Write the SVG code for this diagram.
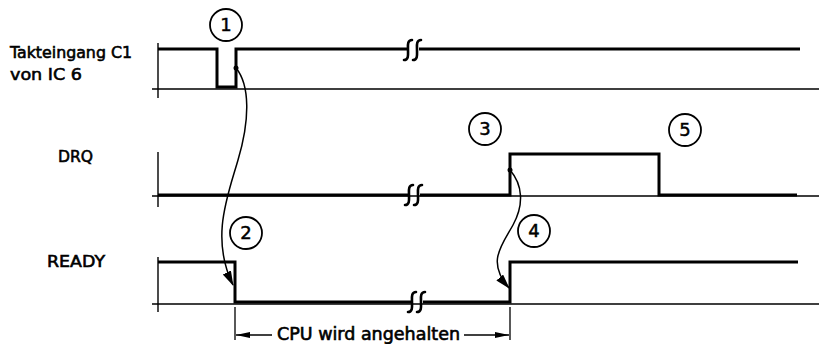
<svg xmlns="http://www.w3.org/2000/svg" width="819" height="344" viewBox="0 0 819 344">
<style>
.lbl{font-family:"DejaVu Sans","Liberation Sans",sans-serif;font-size:16px;fill:#000;stroke:#000;stroke-width:0.6}
.num{font-family:"DejaVu Sans","Liberation Sans",sans-serif;font-size:18px;fill:#000;text-anchor:middle;stroke:#000;stroke-width:0.5}
.axis{stroke:#000;stroke-width:1.4;fill:none}
.sig{stroke:#000;stroke-width:3;fill:none;stroke-linejoin:miter;stroke-linecap:butt}
.brk{stroke:#000;stroke-width:2.6;fill:none;stroke-linecap:round}
.circ{stroke:#000;stroke-width:1.8;fill:none}
.conn{stroke:#000;stroke-width:1.5;fill:none}
.dim{stroke:#000;stroke-width:1.3;fill:none}
</style>
<defs>
<marker id="ah" markerUnits="userSpaceOnUse" markerWidth="16" markerHeight="10" refX="14" refY="4.5" orient="auto">
<path d="M0,0 L15,4.5 L0,9 Z" fill="#000"/>
</marker>
<marker id="dh" markerUnits="userSpaceOnUse" markerWidth="16" markerHeight="8" refX="14" refY="3" orient="auto">
<path d="M0,0 L14,3 L0,6 Z" fill="#000"/>
</marker>
</defs>
<g id="labels">
<text class="lbl" x="10" y="58" textLength="122" lengthAdjust="spacingAndGlyphs">Takteingang C1</text>
<text class="lbl" x="10" y="80" textLength="72" lengthAdjust="spacingAndGlyphs">von IC 6</text>
<text class="lbl" x="58" y="162" textLength="35" lengthAdjust="spacingAndGlyphs">DRQ</text>
<text class="lbl" x="47" y="267" textLength="58" lengthAdjust="spacingAndGlyphs">READY</text>
</g>
<g id="signal-clock">
<path class="axis" d="M152,89 H819 M158,43 V98"/>
<path class="sig" d="M158,49 H217 V87 H236 V49 H408 M419,49 H800"/>
<path class="brk" d="M412,40 C407,40 408,46 408,50 C408,54 409,60 404,60 M421,40 C416,40 417,46 417,50 C417,54 418,60 413,60"/>
</g>
<g id="signal-drq">
<path class="axis" d="M152,196 H819 M158,152 V207"/>
<path class="sig" d="M158,195 H409 M420,195 H510 V154 H659 V195 H797"/>
<path class="brk" d="M413,185 C408,185 409,191 409,195 C409,199 410,205 405,205 M422,185 C417,185 418,191 418,195 C418,199 419,205 414,205"/>
</g>
<g id="signal-ready">
<path class="axis" d="M152,304 H819 M158,257 V312"/>
<path class="sig" d="M158,262 H235 V302 H412 M423,302 H510 V262 H798"/>
<path class="brk" d="M416,292 C411,292 412,298 412,302 C412,306 413,312 408,312 M425,292 C420,292 421,298 421,302 C421,306 422,312 417,312"/>
</g>
<g id="marker-1"><circle class="circ" cx="226" cy="25" r="16"/><text class="num" x="226" y="31">1</text></g>
<g id="marker-2"><circle class="circ" cx="246" cy="233" r="16"/><text class="num" x="246" y="239">2</text></g>
<g id="marker-3"><circle class="circ" cx="485" cy="129" r="16"/><text class="num" x="485" y="135">3</text></g>
<g id="marker-4"><circle class="circ" cx="534" cy="231" r="16"/><text class="num" x="534" y="237">4</text></g>
<g id="marker-5"><circle class="circ" cx="685" cy="130" r="16"/><text class="num" x="685" y="136">5</text></g>
<g id="connectors">
<circle cx="236" cy="68" r="2.5" fill="#000"/>
<path class="conn" d="M236,68 C250,85 250,120 238,160 C228,195 210,238 233,285" marker-end="url(#ah)"/>
<circle cx="510" cy="170" r="2.5" fill="#000"/>
<path class="conn" d="M510,170 C523,185 524,205 513,225 C502,245 486,262 509,288" marker-end="url(#ah)"/>
</g>
<g id="dimension">
<path class="dim" d="M235,307 V340 M510,307 V340"/>
<path class="dim" d="M272,335 H236" marker-end="url(#dh)"/>
<path class="dim" d="M464,335 H509" marker-end="url(#dh)"/>
<text class="lbl" x="277" y="340" textLength="183" lengthAdjust="spacingAndGlyphs" style="font-size:17px">CPU wird angehalten</text>
</g>
</svg>
